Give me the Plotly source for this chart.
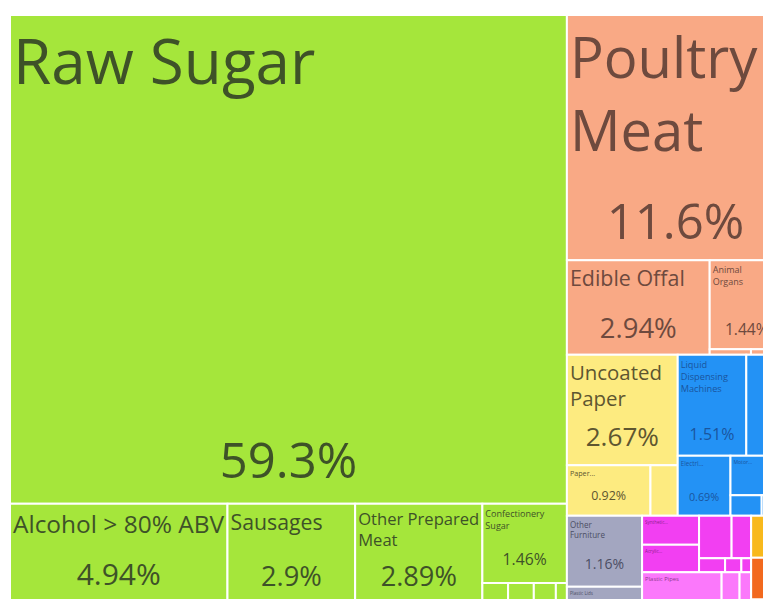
import math
import plotly.graph_objects as go

# ---------------- data ----------------
sectors = [
    "Foodstuffs", "Animal Products", "Paper Goods", "Machines", "Miscellaneous",
    "Chemical Products", "Plastics and Rubbers", "Vegetable Products",
    "Mineral Products", "Metals", "Textiles",
]

products = [
    "Raw Sugar", "Alcohol > 80% ABV", "Sausages", "Other Prepared Meat",
    "Confectionery Sugar", "Chocolate", "Baked Goods", "Sauces and Seasonings",
    "Other Edible Preparations",
    "Poultry Meat", "Edible Offal", "Animal Organs", "Frozen Bovine Meat", "Pig Meat",
    "Uncoated Paper", "Paper...", "Toilet Paper",
    "Liquid Dispensing Machines", "Air Pumps", "Electri...", "Motor...",
    "Valves", "Electrical Parts",
    "Other Furniture", "Plastic Lids",
    "Synthetic...", "Acrylic...", "Cleaning Products", "Soap", "Glues",
    "Perfumes", "Paints",
    "Plastic Pipes", "Rubber Tires", "Plastic Housewares",
    "Fruit Juice", "Salt", "Iron Structures", "Cotton Fabric",
]

product_sector = [
    "Foodstuffs", "Foodstuffs", "Foodstuffs", "Foodstuffs",
    "Foodstuffs", "Foodstuffs", "Foodstuffs", "Foodstuffs",
    "Foodstuffs",
    "Animal Products", "Animal Products", "Animal Products", "Animal Products", "Animal Products",
    "Paper Goods", "Paper Goods", "Paper Goods",
    "Machines", "Machines", "Machines", "Machines",
    "Machines", "Machines",
    "Miscellaneous", "Miscellaneous",
    "Chemical Products", "Chemical Products", "Chemical Products", "Chemical Products", "Chemical Products",
    "Chemical Products", "Chemical Products",
    "Plastics and Rubbers", "Plastics and Rubbers", "Plastics and Rubbers",
    "Vegetable Products", "Mineral Products", "Metals", "Textiles",
]

shares = [
    59.3, 4.94, 2.9, 2.89,
    1.46, 0.14, 0.14, 0.06,
    0.12,
    11.6, 2.94, 1.44, 0.05, 0.04,
    2.67, 0.92, 0.30,
    1.51, 0.83, 0.69, 0.46,
    0.14, 0.10,
    1.16, 0.35,
    0.36, 0.34, 0.30, 0.18, 0.08,
    0.05, 0.03,
    0.62, 0.14, 0.09,
    0.30, 0.17, 0.13, 0.06,
]

# ---------------- styles ----------------
SECTOR_COLORS = {
    "Foodstuffs": "#a5e63b",
    "Animal Products": "#f9a985",
    "Paper Goods": "#fdeb80",
    "Machines": "#2392f5",
    "Miscellaneous": "#a3a6c0",
    "Chemical Products": "#f23ff2",
    "Plastics and Rubbers": "#fb78fb",
    "Vegetable Products": "#f8b91c",
    "Mineral Products": "#f2691e",
    "Metals": "#b56a1d",
    "Textiles": "#2aa44c",
}
TEXT_COLORS = {
    "Foodstuffs": "#3e5228",
    "Animal Products": "#6e4a3e",
    "Paper Goods": "#5e5630",
    "Machines": "#1a559e",
    "Miscellaneous": "#4c4e64",
    "Chemical Products": "#8c1f8c",
    "Plastics and Rubbers": "#8c3a8c",
    "Vegetable Products": "#6a4e08",
    "Mineral Products": "#6a2c08",
    "Metals": "#4a2a08",
    "Textiles": "#0e4a20",
}
WRAPPED = {
    "Poultry Meat": "Poultry<br>Meat",
    "Other Prepared Meat": "Other Prepared<br>Meat",
    "Uncoated Paper": "Uncoated<br>Paper",
    "Animal Organs": "Animal<br>Organs",
    "Confectionery Sugar": "Confectionery<br>Sugar",
    "Liquid Dispensing Machines": "Liquid<br>Dispensing<br>Machines",
    "Other Furniture": "Other<br>Furniture",
}
HIDE_TEXT = {"Air Pumps"}   # tile too narrow for a caption
FONT = "Open Sans, Noto Sans, sans-serif"
MIN_LABEL = 0.31   # smallest share that still gets a name
MIN_VALUE = 0.65   # smallest share that still gets its percentage


def label_font(v):
    if v >= 10:
        return min(62, 16.5 * math.sqrt(v))
    if v >= 2:
        return 12.5 * math.sqrt(v)
    return max(4.5, 7.5 * math.sqrt(v))


def pct_font(v):
    if v >= 8:
        return min(49, 16 * math.sqrt(v))
    if v >= 2.5:
        return min(30, 16 * math.sqrt(v))
    return 13 * math.sqrt(v)


# ---------------- hierarchy ----------------
ids = ["root"] + ["s:" + s for s in sectors] + ["p:" + p for p in products]
labels = [""] + sectors + [WRAPPED.get(p, p) for p in products]
parents = [""] + ["root"] * len(sectors) + ["s:" + s for s in product_sector]
values = [0] + [0] * len(sectors) + shares

n_head = 1 + len(sectors)
colors = ["#ffffff"] + [SECTOR_COLORS[s] for s in sectors] + [SECTOR_COLORS[s] for s in product_sector]
txt_colors = ["#ffffff"] + [TEXT_COLORS[s] for s in sectors] + [TEXT_COLORS[s] for s in product_sector]

label_tpl = [""] * n_head + [
    "%{label}" if (v >= MIN_LABEL and p not in HIDE_TEXT) else ""
    for p, v in zip(products, shares)
]
pct_tpl = [""] * n_head + [
    "%{percentRoot:.3~p}" if (v >= MIN_VALUE and p not in HIDE_TEXT) else ""
    for p, v in zip(products, shares)
]
label_size = [10] * n_head + [label_font(v) for v in shares]
pct_size = [10] * n_head + [pct_font(v) for v in shares]

common = dict(
    ids=ids, labels=labels, parents=parents, values=values,
    branchvalues="remainder", sort=True,
    tiling=dict(packing="squarify", squarifyratio=1.618, pad=0),
    pathbar=dict(visible=False),
)

fig = go.Figure()
fig.add_trace(go.Treemap(
    **common,
    domain=dict(x=[0, 1], y=[0, 1]),
    marker=dict(colors=colors, line=dict(color="#ffffff", width=2),
                pad=dict(t=0, l=0, r=0, b=0)),
    texttemplate=label_tpl,
    textposition="top left",
    textfont=dict(family=FONT, size=label_size, color=txt_colors),
    hovertemplate="%{label}<br>%{percentRoot:.3~p}<extra></extra>",
))
# value layer: same tiles, lifted slightly off the bottom edge of each tile
fig.add_trace(go.Treemap(
    **common,
    domain=dict(x=[0, 1], y=[0.018, 1]),
    marker=dict(colors=["rgba(0,0,0,0)"] * len(ids), line=dict(width=0),
                pad=dict(t=0, l=0, r=0, b=0)),
    texttemplate=pct_tpl,
    textposition="bottom center",
    textfont=dict(family=FONT, size=pct_size, color=txt_colors),
    hoverinfo="skip",
))

fig.update_layout(
    width=776, height=600,
    margin=dict(l=2, t=7, r=0, b=0),
    paper_bgcolor="#ffffff",
    showlegend=False,
)

fig.write_html("out.html")
